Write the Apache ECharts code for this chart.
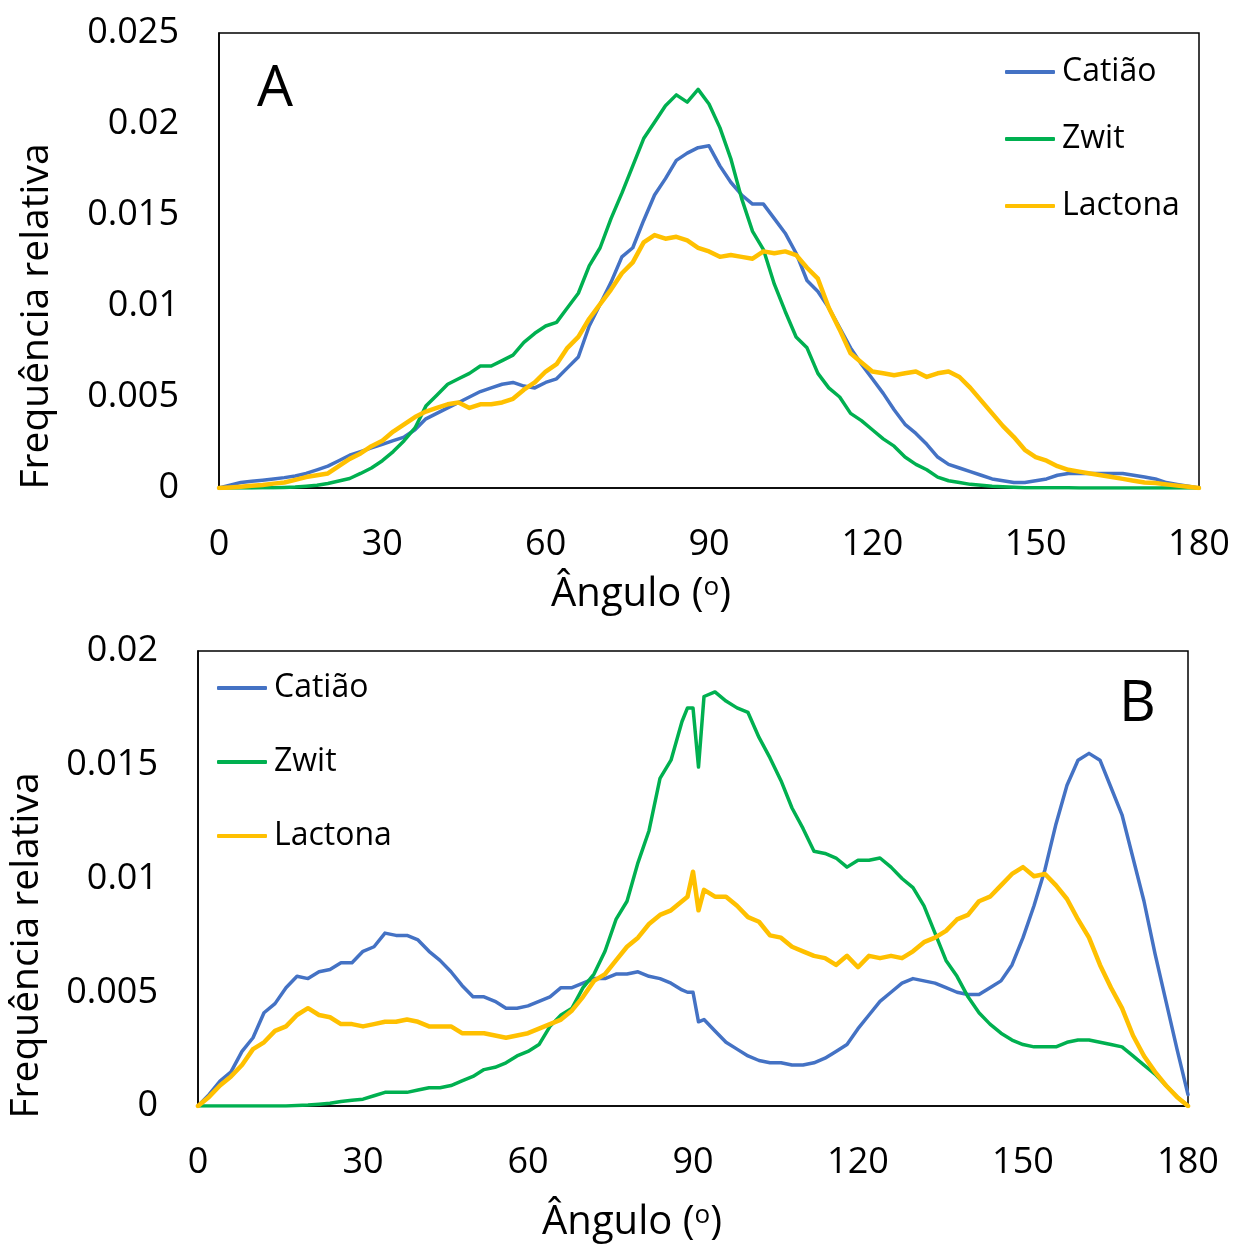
<!DOCTYPE html>
<html>
<head>
<meta charset="utf-8">
<script src="https://cdn.jsdelivr.net/npm/echarts@6/dist/echarts.min.js"></script>
<style>
  html, body { margin: 0; padding: 0; background: #fff; }
  #chart { width: 1234px; height: 1244px; }
</style>
</head>
<body>
<div id="chart"></div>
<script>
// Angle grid (degrees) for panel A
const angleA = [
  0, 2, 4, 6, 8, 10, 12, 14, 16, 18,
  20, 22, 24, 26, 28, 30, 32, 34, 36, 38,
  40, 42, 44, 46, 48, 50, 52, 54, 56, 58,
  60, 62, 64, 66, 68, 70, 72, 74, 76, 78,
  80, 82, 84, 86, 88, 90, 92, 94, 96, 98,
  100, 102, 104, 106, 108, 110, 112, 114, 116, 118,
  120, 122, 124, 126, 128, 130, 132, 134, 136, 138,
  140, 142, 144, 146, 148, 150, 152, 154, 156, 158,
  160, 162, 164, 166, 168, 170, 172, 174, 176, 178,
  180
];

// Panel A: relative frequency per angle
const catiaoA = [
  0, 0.00016, 0.0003, 0.00037, 0.00043, 0.0005, 0.00057, 0.00066, 0.0008, 0.001,
  0.0012, 0.0015, 0.0018, 0.002, 0.0022, 0.0024, 0.0026, 0.0028, 0.0032, 0.0038,
  0.0041, 0.0044, 0.0047, 0.005, 0.0053, 0.0055, 0.0057, 0.0058, 0.0056, 0.0055,
  0.0058, 0.006, 0.0066, 0.0072, 0.0089, 0.0101, 0.0113, 0.0127, 0.0132, 0.0147,
  0.0161, 0.017, 0.018, 0.0184, 0.0187, 0.0188, 0.0177, 0.0168, 0.0161, 0.0156,
  0.0156, 0.0148, 0.014, 0.0129, 0.0114, 0.0108, 0.0099, 0.0088, 0.0077, 0.0068,
  0.006, 0.0052, 0.0043, 0.0035, 0.003, 0.0024, 0.0017, 0.0013, 0.0011, 0.0009,
  0.0007, 0.0005, 0.0004, 0.0003, 0.0003, 0.0004, 0.0005, 0.0007, 0.0008, 0.0008,
  0.0008, 0.0008, 0.0008, 0.0008, 0.0007, 0.0006, 0.0005, 0.0003, 0.0002, 0.0001,
  0
];
const zwitA = [
  0, 0, 0, 0, 0.00001, 0.00002, 0.00003, 0.00005, 0.0001, 0.00015,
  0.00025, 0.00038, 0.00052, 0.0008, 0.0011, 0.0015, 0.002, 0.0026, 0.0033, 0.0045,
  0.0051, 0.0057, 0.006, 0.0063, 0.0067, 0.0067, 0.007, 0.0073, 0.008, 0.0085,
  0.0089, 0.0091, 0.0099, 0.0107, 0.0122, 0.0132, 0.0148, 0.0162, 0.0177, 0.0192,
  0.0201, 0.021, 0.0216, 0.0212, 0.0219, 0.0211, 0.0198, 0.0181, 0.0159, 0.0141,
  0.0131, 0.0112, 0.0097, 0.0083, 0.0077, 0.0063, 0.0055, 0.005, 0.0041, 0.0037,
  0.0032, 0.0027, 0.0023, 0.0017, 0.0013, 0.001, 0.0006, 0.0004, 0.0003, 0.0002,
  0.00015, 0.0001, 0.00007, 0.00004, 0.00002, 0.00002, 0.00001, 0.00001, 0.00001, 0,
  0, 0, 0, 0, 0, 0, 0, 0, 0, 0,
  0
];
const lactonaA = [
  0, 0.00003, 0.00007, 0.00012, 0.00016, 0.00024, 0.0003, 0.00045, 0.0006, 0.0007,
  0.0008, 0.0012, 0.0016, 0.0019, 0.0023, 0.0026, 0.0031, 0.0035, 0.0039, 0.0042,
  0.0044, 0.0046, 0.0047, 0.0044, 0.0046, 0.0046, 0.0047, 0.0049, 0.0054, 0.0058,
  0.0064, 0.0068, 0.0077, 0.0083, 0.0093, 0.0101, 0.0109, 0.0118, 0.0124, 0.0135,
  0.0139, 0.0137, 0.0138, 0.0136, 0.0132, 0.013, 0.0127, 0.0128, 0.0127, 0.0126,
  0.013, 0.0129, 0.013, 0.0128, 0.0121, 0.0115, 0.0099, 0.0087, 0.0074, 0.0069,
  0.0064, 0.0063, 0.0062, 0.0063, 0.0064, 0.0061, 0.0063, 0.0064, 0.0061, 0.0055,
  0.0048, 0.0041, 0.0034, 0.0028, 0.0021, 0.0017, 0.0015, 0.0012, 0.001, 0.0009,
  0.0008, 0.0007, 0.0006, 0.0005, 0.0004, 0.0003, 0.00027, 0.0002, 0.00013, 0.00007,
  0
];

// Angle grid (degrees) for panel B, with 1-degree steps around 90
const angleB = [
  0, 2, 4, 6, 8, 10, 12, 14, 16, 18,
  20, 22, 24, 26, 28, 30, 32, 34, 36, 38,
  40, 42, 44, 46, 48, 50, 52, 54, 56, 58,
  60, 62, 64, 66, 68, 70, 72, 74, 76, 78,
  80, 82, 84, 86, 88, 89, 90, 91, 92, 94,
  96, 98, 100, 102, 104, 106, 108, 110, 112, 114,
  116, 118, 120, 122, 124, 126, 128, 130, 132, 134,
  136, 138, 140, 142, 144, 146, 148, 150, 152, 154,
  156, 158, 160, 162, 164, 166, 168, 170, 172, 174,
  176, 178, 180
];

// Panel B: relative frequency per angle
const catiaoB = [
  0, 0.0005, 0.0011, 0.0015, 0.0024, 0.003, 0.0041, 0.0045, 0.0052, 0.0057,
  0.0056, 0.0059, 0.006, 0.0063, 0.0063, 0.0068, 0.007, 0.0076, 0.0075, 0.0075,
  0.0073, 0.0068, 0.0064, 0.0059, 0.0053, 0.0048, 0.0048, 0.0046, 0.0043, 0.0043,
  0.0044, 0.0046, 0.0048, 0.0052, 0.0052, 0.0054, 0.0056, 0.0056, 0.0058, 0.0058,
  0.0059, 0.0057, 0.0056, 0.0054, 0.0051, 0.005, 0.005, 0.0037, 0.0038, 0.0033,
  0.0028, 0.0025, 0.0022, 0.002, 0.0019, 0.0019, 0.0018, 0.0018, 0.0019, 0.0021,
  0.0024, 0.0027, 0.0034, 0.004, 0.0046, 0.005, 0.0054, 0.0056, 0.0055, 0.0054,
  0.0052, 0.005, 0.0049, 0.0049, 0.0052, 0.0055, 0.0062, 0.0074, 0.0088, 0.0104,
  0.0124, 0.0141, 0.0152, 0.0155, 0.0152, 0.014, 0.0128, 0.0109, 0.009, 0.0067,
  0.0046, 0.0025, 0.0005
];
const zwitB = [
  0, 0, 0, 0, 0, 0, 0, 0, 0, 0.00002,
  0.00004, 0.00008, 0.00012, 0.0002, 0.00025, 0.0003, 0.00045, 0.0006, 0.0006, 0.0006,
  0.0007, 0.0008, 0.0008, 0.0009, 0.0011, 0.0013, 0.0016, 0.0017, 0.0019, 0.0022,
  0.0024, 0.0027, 0.0035, 0.004, 0.0043, 0.0052, 0.0058, 0.0068, 0.0082, 0.009,
  0.0107, 0.0121, 0.0144, 0.0152, 0.0169, 0.0175, 0.0175, 0.0149, 0.018, 0.0182,
  0.0178, 0.0175, 0.0173, 0.0162, 0.0153, 0.0143, 0.0131, 0.0122, 0.0112, 0.0111,
  0.0109, 0.0105, 0.0108, 0.0108, 0.0109, 0.0105, 0.01, 0.0096, 0.0088, 0.0076,
  0.0064, 0.0057, 0.0048, 0.0041, 0.0036, 0.0032, 0.0029, 0.0027, 0.0026, 0.0026,
  0.0026, 0.0028, 0.0029, 0.0029, 0.0028, 0.0027, 0.0026, 0.0022, 0.0018, 0.0014,
  0.0009, 0.0004, 0
];
const lactonaB = [
  0, 0.0004, 0.0009, 0.0013, 0.0018, 0.0025, 0.0028, 0.0033, 0.0035, 0.004,
  0.0043, 0.004, 0.0039, 0.0036, 0.0036, 0.0035, 0.0036, 0.0037, 0.0037, 0.0038,
  0.0037, 0.0035, 0.0035, 0.0035, 0.0032, 0.0032, 0.0032, 0.0031, 0.003, 0.0031,
  0.0032, 0.0034, 0.0036, 0.0038, 0.0042, 0.0048, 0.0055, 0.0058, 0.0064, 0.007,
  0.0074, 0.008, 0.0084, 0.0086, 0.009, 0.0092, 0.0103, 0.0086, 0.0095, 0.0092,
  0.0092, 0.0088, 0.0083, 0.0081, 0.0075, 0.0074, 0.007, 0.0068, 0.0066, 0.0065,
  0.0062, 0.0066, 0.0061, 0.0066, 0.0065, 0.0066, 0.0065, 0.0068, 0.0072, 0.0074,
  0.0077, 0.0082, 0.0084, 0.009, 0.0092, 0.0097, 0.0102, 0.0105, 0.0101, 0.0102,
  0.0097, 0.0091, 0.0082, 0.0074, 0.0062, 0.0052, 0.0043, 0.0031, 0.0022, 0.0015,
  0.0009, 0.0004, 0
];

const seriesNames = ['Catião', 'Zwit', 'Lactona'];
const seriesColors = ['#4472C4', '#00B050', '#FFC000'];
const seriesWidths = [3.5, 3.5, 4.5];

const FONT = '"Open Sans", "DejaVu Sans", sans-serif';
const BLACK = '#000';

function pairs(xs, ys) {
  return xs.map((x, i) => [x, ys[i]]);
}

function makeXAxis(gridIndex, namePadRight, nameGap) {
  return {
    type: 'value', gridIndex: gridIndex, min: 0, max: 180, interval: 30,
    splitLine: { show: false },
    axisTick: { show: false },
    axisLine: { show: true, onZero: false, lineStyle: { color: BLACK, width: 1.5 } },
    axisLabel: { fontSize: 36, color: BLACK, fontFamily: FONT, margin: 39 },
    name: 'Ângulo ({sup|o})',
    nameLocation: 'middle',
    nameGap: nameGap,
    nameTextStyle: {
      fontSize: 40, color: BLACK, fontFamily: FONT,
      padding: [0, namePadRight, 0, 0],
      rich: {
        sup: { fontSize: 26, fontFamily: FONT, color: BLACK, verticalAlign: 'top', lineHeight: 26, padding: [0, 0, 22, 0] }
      }
    }
  };
}

function makeYAxis(gridIndex, max, namePadRight, nameGap) {
  return {
    type: 'value', gridIndex: gridIndex, min: 0, max: max, interval: 0.005,
    splitLine: { show: false },
    axisTick: { show: false },
    axisLine: { show: true, lineStyle: { color: BLACK, width: 1.5 } },
    axisLabel: { fontSize: 36, color: BLACK, fontFamily: FONT, margin: 40 },
    name: 'Frequência relativa',
    nameLocation: 'middle',
    nameGap: nameGap,
    nameTextStyle: {
      fontSize: 39, color: BLACK, fontFamily: FONT,
      padding: [0, namePadRight, 0, 0]
    }
  };
}

function makeLegend(left, top, gap) {
  return {
    orient: 'vertical', left: left, top: top,
    padding: 0,
    icon: 'roundRect',
    itemWidth: 50, itemHeight: 4, itemGap: gap,
    selectedMode: false,
    data: seriesNames,
    textStyle: { fontSize: 32, color: BLACK, fontFamily: FONT, lineHeight: 40, padding: [0, 0, 0, 2] }
  };
}

function makeSeries(xIdx, angles, valueSets) {
  return valueSets.map((vals, i) => ({
    name: seriesNames[i],
    type: 'line',
    xAxisIndex: xIdx, yAxisIndex: xIdx,
    data: pairs(angles, vals),
    symbol: 'none',
    color: seriesColors[i],
    lineStyle: { color: seriesColors[i], width: seriesWidths[i], cap: 'round', join: 'round' },
    z: 2 + i
  }));
}

const chart = echarts.init(document.getElementById('chart'), null, { renderer: 'canvas' });
chart.setOption({
  animation: false,
  backgroundColor: '#fff',
  title: [
    { text: 'A', left: 252, top: 56, textStyle: { fontSize: 57, fontWeight: 'normal', color: BLACK, fontFamily: FONT } },
    { text: 'B', left: 1114, top: 671, textStyle: { fontSize: 57, fontWeight: 'normal', color: BLACK, fontFamily: FONT } }
  ],
  grid: [
    { left: 219, top: 33, width: 980, height: 455, show: true, borderColor: BLACK, borderWidth: 1.5, backgroundColor: 'transparent', containLabel: false, outerBoundsMode: 'none' },
    { left: 198, top: 651, width: 990, height: 455, show: true, borderColor: BLACK, borderWidth: 1.5, backgroundColor: 'transparent', containLabel: false, outerBoundsMode: 'none' }
  ],
  legend: [
    makeLegend(1005, 52, 27),
    makeLegend(217, 668, 34)
  ],
  xAxis: [
    makeXAxis(0, 136, 87),
    makeXAxis(1, 122, 97)
  ],
  yAxis: [
    makeYAxis(0, 0.025, 112, 163),
    makeYAxis(1, 0.02, 134, 152)
  ],
  series: [].concat(
    makeSeries(0, angleA, [catiaoA, zwitA, lactonaA]),
    makeSeries(1, angleB, [catiaoB, zwitB, lactonaB])
  )
});
</script>
</body>
</html>
